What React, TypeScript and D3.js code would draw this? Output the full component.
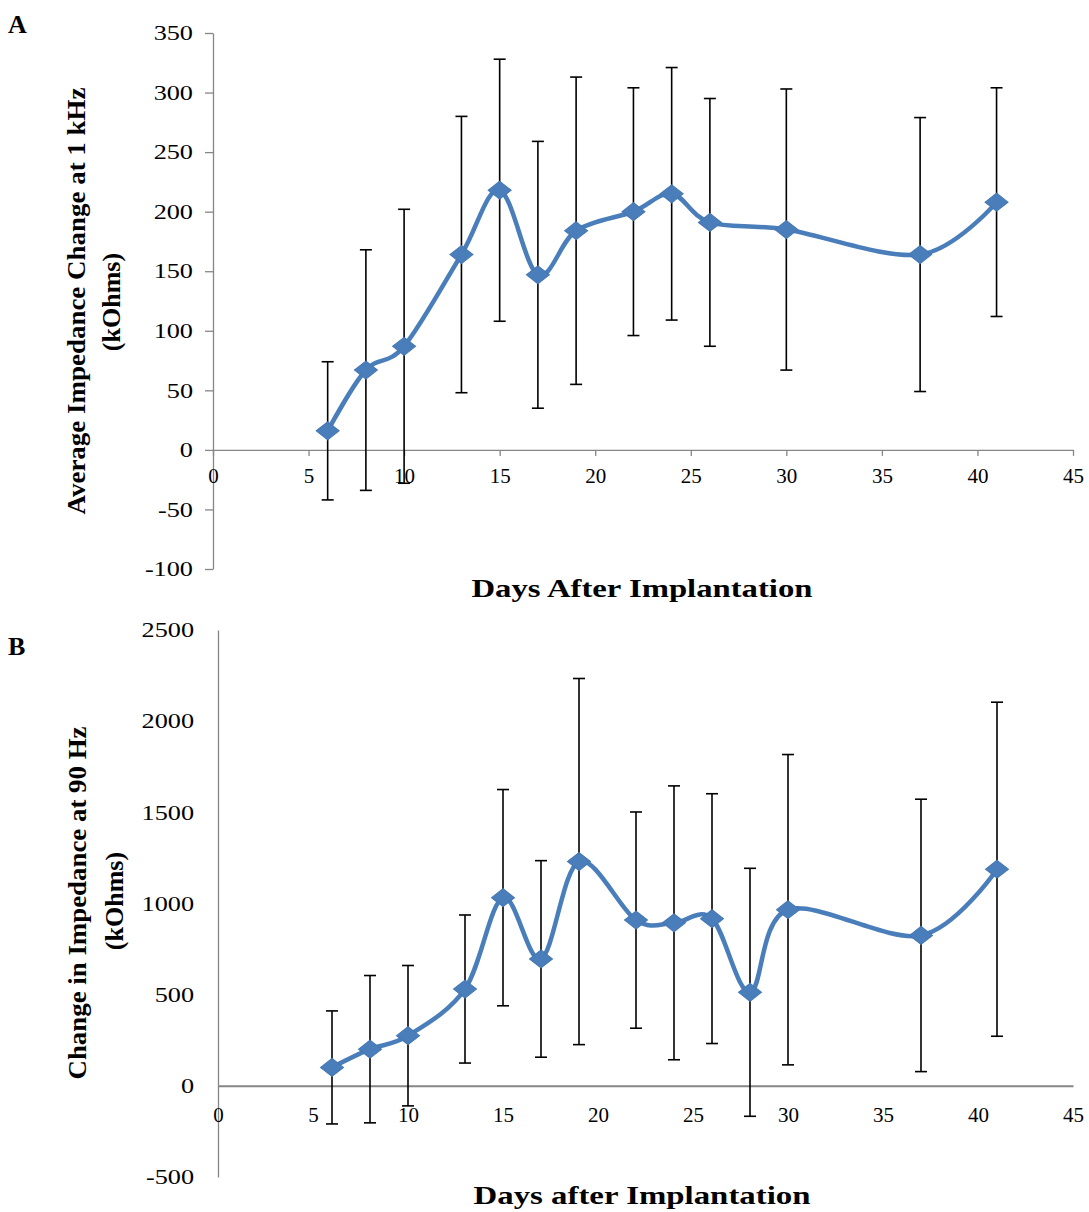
import React, { useEffect, useRef } from "react";
import * as d3 from "d3";

// panel A: 1 kHz
const daysA = [6, 8, 10, 13, 15, 17, 19, 22, 24, 26, 30, 37, 41];
const meanA = [16, 67, 87, 164, 218, 147, 184, 200, 215, 191, 185, 164, 208];
const errA = [58, 101, 115, 116, 110, 112, 129, 104, 106, 104, 118, 115, 96];
const yTicksA = [-100, -50, 0, 50, 100, 150, 200, 250, 300, 350];

// panel B: 90 Hz
const daysB = [6, 8, 10, 13, 15, 17, 19, 22, 24, 26, 28, 30, 37, 41];
const meanB = [101, 201, 275, 531, 1032, 696, 1230, 909, 894, 917, 513, 966, 825, 1188];
const errB = [310, 404, 385, 406, 593, 539, 1004, 593, 751, 685, 680, 851, 747, 916];
const yTicksB = [-500, 0, 500, 1000, 1500, 2000, 2500];

const xTicks = [0, 5, 10, 15, 20, 25, 30, 35, 40, 45];

const BLUE = "#4a7ebb";
const AXIS = "#868686";
const SERIF = "'Liberation Serif', 'Times New Roman', serif";

interface Panel {
  days: number[];
  mean: number[];
  err: number[];
  yTicks: number[];
  x: d3.ScaleLinear<number, number>;
  y: d3.ScaleLinear<number, number>;
  ticks: boolean;
  xLabelOffset: number;
  yLabelGap: number;
  xAxisWidth: number;
  letter: string;
  letterY: number;
  xTitle: string;
  xTitleY: number;
  xTitleLen: number;
  yTitle: string;
  yTitleLen: number;
  yTitleX: number;
  yTitleY: number;
  kOhmsX: number;
  kOhmsY: number;
}

const App: React.FC = () => {
  const svgRef = useRef<SVGSVGElement>(null);

  useEffect(() => {
    const panels: Panel[] = [
      {
        days: daysA,
        mean: meanA,
        err: errA,
        yTicks: yTicksA,
        x: d3.scaleLinear().domain([0, 45]).range([213, 1073]),
        y: d3.scaleLinear().domain([-100, 350]).range([569, 33]),
        ticks: true,
        xLabelOffset: 18,
        yLabelGap: 20,
        xAxisWidth: 1.3,
        letter: "A",
        letterY: 33,
        xTitle: "Days After Implantation",
        xTitleY: 597,
        xTitleLen: 341,
        yTitle: "Average Impedance Change at 1 kHz",
        yTitleLen: 427,
        yTitleX: 85,
        yTitleY: 301,
        kOhmsX: 120,
        kOhmsY: 302,
      },
      {
        days: daysB,
        mean: meanB,
        err: errB,
        yTicks: yTicksB,
        x: d3.scaleLinear().domain([0, 45]).range([218, 1073]),
        y: d3.scaleLinear().domain([-500, 2500]).range([1177, 630]),
        ticks: false,
        xLabelOffset: 21,
        yLabelGap: 24,
        xAxisWidth: 2,
        letter: "B",
        letterY: 655,
        xTitle: "Days after Implantation",
        xTitleY: 1204,
        xTitleLen: 337,
        yTitle: "Change in Impedance at 90 Hz",
        yTitleLen: 353,
        yTitleX: 86,
        yTitleY: 903,
        kOhmsX: 123,
        kOhmsY: 901,
      },
    ];

    const svg = d3.select(svgRef.current);
    svg.selectAll("*").remove();

    panels.forEach((p) => {
      const g = svg.append("g");

      // y axis
      const yAxis = d3
        .axisLeft(p.y)
        .tickValues(p.yTicks)
        .tickFormat((d) => String(d))
        .tickSize(p.ticks ? 8 : 0)
        .tickSizeOuter(0);
      const yg = g
        .append("g")
        .attr("transform", `translate(${p.x(0)},0)`)
        .call(yAxis);
      yg.select(".domain").attr("stroke", AXIS).attr("stroke-width", 1.3);
      yg.selectAll(".tick line").attr("stroke", AXIS).attr("stroke-width", 1.3);
      yg.selectAll(".tick text")
        .attr("x", -p.yLabelGap / 1.25)
        .attr("transform", "scale(1.25,1)")
        .attr("font-family", SERIF)
        .attr("font-size", 21)
        .attr("fill", "#000");

      // x axis at zero
      const xAxis = d3
        .axisBottom(p.x)
        .tickValues(xTicks)
        .tickFormat((d) => String(d))
        .tickSize(p.ticks ? 6 : 0)
        .tickSizeOuter(0);
      const xg = g
        .append("g")
        .attr("transform", `translate(0,${p.y(0)})`)
        .call(xAxis);
      xg.select(".domain").attr("stroke", AXIS).attr("stroke-width", p.xAxisWidth);
      xg.selectAll(".tick line").attr("stroke", AXIS).attr("stroke-width", 1.3);
      xg.selectAll(".tick text")
        .attr("y", p.xLabelOffset)
        .attr("font-family", SERIF)
        .attr("font-size", 21)
        .attr("fill", "#000");

      // error bars
      const eb = g
        .selectAll(".err")
        .data(p.days)
        .enter()
        .append("g")
        .attr("stroke", "#000")
        .attr("stroke-width", 1.6);
      eb.append("line")
        .attr("x1", (d) => p.x(d))
        .attr("x2", (d) => p.x(d))
        .attr("y1", (_, i) => p.y(p.mean[i] + p.err[i]))
        .attr("y2", (_, i) => p.y(p.mean[i] - p.err[i]));
      [1, -1].forEach((sgn) => {
        eb.append("line")
          .attr("x1", (d) => p.x(d) - 6)
          .attr("x2", (d) => p.x(d) + 6)
          .attr("y1", (_, i) => p.y(p.mean[i] + sgn * p.err[i]))
          .attr("y2", (_, i) => p.y(p.mean[i] + sgn * p.err[i]));
      });

      // smoothed line
      const line = d3
        .line<number>()
        .x((d) => p.x(d))
        .y((_, i) => p.y(p.mean[i]))
        .curve(d3.curveCardinal.tension(0));
      g.append("path")
        .datum(p.days)
        .attr("d", line)
        .attr("fill", "none")
        .attr("stroke", BLUE)
        .attr("stroke-width", 4.5)
        .attr("stroke-linejoin", "round");

      // diamond markers
      const diamond = d3.symbol().type(d3.symbolDiamond2 || d3.symbolDiamond).size(255);
      g.selectAll(".marker")
        .data(p.days)
        .enter()
        .append("path")
        .attr("d", diamond)
        .attr(
          "transform",
          (d, i) => `translate(${p.x(d)},${p.y(p.mean[i])}) scale(1.15,0.9)`
        )
        .attr("fill", BLUE)
        .attr("stroke", "#4577b3")
        .attr("stroke-width", 1);

      // titles
      g.append("text")
        .attr("x", 8)
        .attr("y", p.letterY)
        .attr("font-family", SERIF)
        .attr("font-weight", "bold")
        .attr("font-size", 26)
        .text(p.letter);

      g.append("text")
        .attr("x", (p.x(0) + p.x(45)) / 2 - 0)
        .attr("y", p.xTitleY)
        .attr("text-anchor", "middle")
        .attr("font-family", SERIF)
        .attr("font-weight", "bold")
        .attr("font-size", 25)
        .attr("textLength", p.xTitleLen)
        .attr("lengthAdjust", "spacingAndGlyphs")
        .attr("transform", `translate(${642 - (p.x(0) + p.x(45)) / 2},0)`)
        .text(p.xTitle);

      g.append("text")
        .attr("transform", `translate(${p.yTitleX},${p.yTitleY}) rotate(-90)`)
        .attr("text-anchor", "middle")
        .attr("font-family", SERIF)
        .attr("font-weight", "bold")
        .attr("font-size", 26)
        .attr("textLength", p.yTitleLen)
        .attr("lengthAdjust", "spacingAndGlyphs")
        .text(p.yTitle);

      g.append("text")
        .attr("transform", `translate(${p.kOhmsX},${p.kOhmsY}) rotate(-90)`)
        .attr("text-anchor", "middle")
        .attr("font-family", SERIF)
        .attr("font-weight", "bold")
        .attr("font-size", 26)
        .text("(kOhms)");
    });
  }, []);

  return (
    <svg
      ref={svgRef}
      width={1089}
      height={1212}
      style={{ position: "absolute", left: 0, top: 0, background: "#fff" }}
    ></svg>
  );
};

export default App;
